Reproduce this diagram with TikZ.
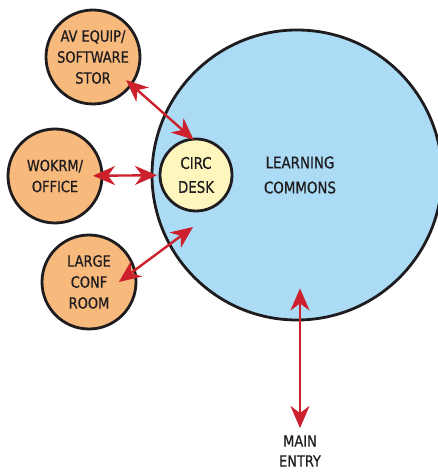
\documentclass[tikz,border=0pt]{standalone}
\usepackage{fontspec}
\setmainfont{DejaVu Sans Condensed}[FakeBold=0.7, FakeStretch=0.93]
\usepackage{tikz}
\usetikzlibrary{arrows.meta, positioning, calc}
\definecolor{myred}{RGB}{204,32,44}
\definecolor{mydark}{RGB}{30,28,30}
\definecolor{myorange}{RGB}{248,186,124}
\definecolor{myblue}{RGB}{172,220,245}
\definecolor{myyellow}{RGB}{255,246,190}
\tikzset{
  room/.style={circle, draw=mydark, fill=myorange, line width=2.8pt,
    minimum size=94pt, inner sep=0pt, align=center, text=mydark,
    font=\fontsize{15.5}{21}\selectfont},
  desk/.style={circle, draw=mydark, fill=myyellow, line width=2.8pt,
    minimum size=72pt, inner sep=0pt, align=center, text=mydark,
    font=\fontsize{16}{24}\selectfont},
  commons/.style={circle, draw=mydark, fill=myblue, line width=2.8pt,
    minimum size=290pt, inner sep=0pt, align=center, text=mydark,
    font=\fontsize{16}{25}\selectfont},
  entrytext/.style={align=center, text=mydark, inner sep=0pt,
    font=\fontsize{15.5}{20}\selectfont},
  dblarrow/.style={{Stealth[length=22pt, width=19pt, inset=7pt]}-{Stealth[length=22pt, width=19pt, inset=7pt]},
    line width=2.4pt, color=myred}
}
\begin{document}
\begin{tikzpicture}[x=1pt, y=1pt]
  \useasboundingbox (0,0) rectangle (438,472);

  % Areas
  \node[commons] (commons) at (297,297) {\hspace*{6pt}LEARNING\\\hspace*{6pt}COMMONS};
  \node[desk] (circ) at (196,297) {CIRC\\DESK};
  \node[room] (av) at (93,415) {AV EQUIP/\\SOFTWARE\\STOR};
  \node[room] (wokrm) at (55,296) {WOKRM/\\OFFICE};
  \node[room] (conf) at (89,190) {LARGE\\CONF\\ROOM};
  \node[entrytext] (entry) at (300,21) {MAIN\\ENTRY};
  \coordinate (confgap) at (193,245);

  % Connections
  \draw[dblarrow, shorten <=-8pt, shorten >=-3pt] (av.-36) -- (circ.97);
  \draw[dblarrow, shorten <=38pt, shorten >=39pt] (wokrm.center) -- (circ.center);
  \draw[dblarrow, shorten <=-21pt] (conf.15) -- (confgap);
  \draw[dblarrow, shorten <=23pt, shorten >=-33pt] (entry.center) -- (entry.center |- commons.south);
\end{tikzpicture}
\end{document}
